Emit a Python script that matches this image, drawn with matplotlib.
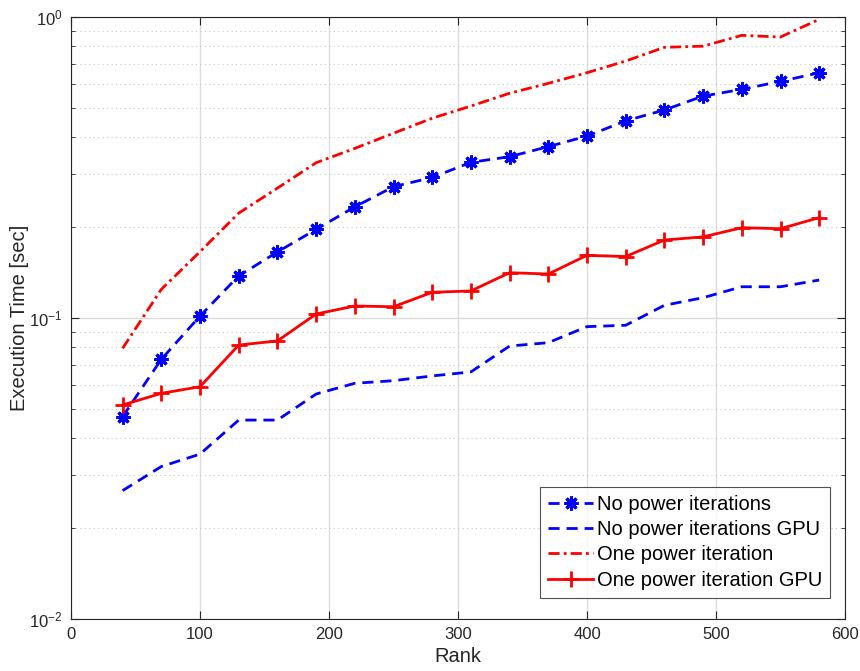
import matplotlib
matplotlib.use("Agg")
import matplotlib.pyplot as plt
from matplotlib.ticker import LogLocator, FixedLocator, NullFormatter

plt.rcParams['font.family'] = ['Liberation Sans', 'DejaVu Sans']
plt.rcParams['mathtext.fontset'] = 'custom'
plt.rcParams['mathtext.rm'] = 'Liberation Sans'
plt.rcParams['mathtext.it'] = 'Liberation Sans:italic'
plt.rcParams['mathtext.default'] = 'regular'

rank = [40, 70, 100, 130, 160, 190, 220, 250, 280, 310, 340, 370, 400, 430, 460, 490, 520, 550, 580]

no_power = [0.047, 0.0729, 0.1015, 0.138, 0.1657, 0.197, 0.234, 0.273, 0.293, 0.329,
            0.3435, 0.371, 0.402, 0.452, 0.491, 0.546, 0.575, 0.611, 0.653]
no_power_gpu = [0.0267, 0.0321, 0.0353, 0.0458, 0.0458, 0.0559, 0.0607, 0.0619, 0.0642, 0.0662,
                0.0807, 0.0828, 0.0936, 0.0946, 0.1102, 0.1168, 0.127, 0.127, 0.1337]
one_power = [0.0793, 0.1245, 0.166, 0.223, 0.270, 0.328, 0.366, 0.411, 0.461, 0.506,
             0.558, 0.602, 0.653, 0.714, 0.793, 0.80, 0.869, 0.858, 0.982]
one_power_gpu = [0.0514, 0.0562, 0.0591, 0.0813, 0.0839, 0.1031, 0.1096, 0.109, 0.1217, 0.123,
                 0.1414, 0.140, 0.1615, 0.160, 0.1816, 0.186, 0.1995, 0.198, 0.2155]

labels = ["No power iterations", "No power iterations GPU",
          "One power iteration", "One power iteration GPU"]

fig = plt.figure(figsize=(8.6, 6.71), dpi=100)
ax = fig.add_axes([71/860, 52/671, 774/860, 602/671])

lw = 2.0
ax.plot(rank, no_power, color='blue', linestyle=(0, (4, 2.5)), linewidth=lw,
        marker=(8, 2, 0), markersize=10, markeredgewidth=2.2, label=labels[0])
ax.plot(rank, no_power_gpu, color='blue', linestyle=(0, (4, 2.5)), linewidth=lw,
        label=labels[1])
ax.plot(rank, one_power, color='red', linestyle=(0, (4, 1.5, 1, 1.5)), linewidth=lw,
        label=labels[2])
ax.plot(rank, one_power_gpu, color='red', linestyle='-', linewidth=lw,
        marker='+', markersize=11, markeredgewidth=2, label=labels[3])

ax.set_yscale('log')
ax.set_xlim(0, 600)
ax.set_ylim(1e-2, 1e0)
ax.set_xticks([0, 100, 200, 300, 400, 500, 600])
ax.yaxis.set_major_locator(FixedLocator([1e-2, 1e-1, 1e0]))
ax.yaxis.set_minor_locator(LogLocator(base=10, subs=range(2, 10)))
ax.yaxis.set_minor_formatter(NullFormatter())

ax.grid(True, which='major', color='#dcdcdc', linewidth=1.0, linestyle='-')
ax.grid(True, which='minor', axis='y', color='#c8c8c8', linewidth=0.8, linestyle=(0, (1, 3)))
ax.set_axisbelow(True)

ax.tick_params(which='both', direction='in', top=True, right=True, colors='#262626',
               labelsize=12, length=6, pad=6)
ax.tick_params(which='minor', length=3)
for s in ax.spines.values():
    s.set_color('#262626')
    s.set_linewidth(0.8)

ax.set_xlabel('Rank', fontsize=14.5, color='#262626', labelpad=3)
ax.set_ylabel('Execution Time [sec]', fontsize=14.5, color='#262626', labelpad=0)

leg = ax.legend(loc='lower right', bbox_to_anchor=((830 - 71) / 774, (619 - 598) / 602),
                fontsize=14.5, frameon=True, fancybox=False,
                edgecolor='#262626', handlelength=2.2, handletextpad=0.2,
                borderpad=0.4, labelspacing=0.32, borderaxespad=0.0)
leg.get_frame().set_linewidth(0.8)

fig.savefig('out.png', dpi=100)
